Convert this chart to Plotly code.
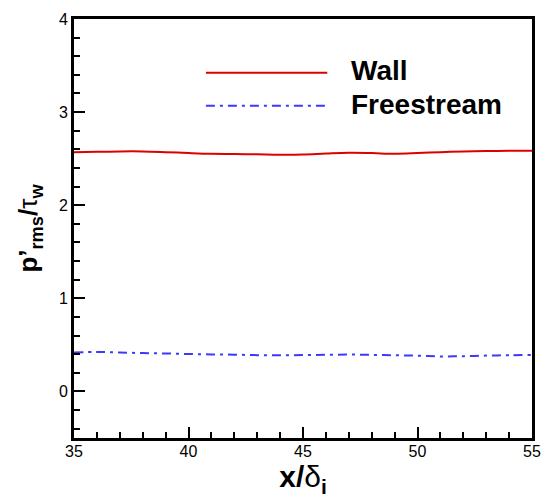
import plotly.graph_objects as go

x_vals = [35, 36, 37, 38, 39, 40, 41, 42, 43, 44, 45, 46, 47, 48, 49, 50, 51, 52, 53, 54, 55]
wall = [2.568, 2.573, 2.578, 2.578, 2.570, 2.560, 2.552, 2.550, 2.547, 2.543, 2.545,
        2.555, 2.563, 2.560, 2.553, 2.560, 2.570, 2.578, 2.582, 2.584, 2.585]
freestream = [0.418, 0.424, 0.418, 0.412, 0.408, 0.402, 0.398, 0.395, 0.390, 0.388, 0.391,
              0.394, 0.396, 0.393, 0.389, 0.384, 0.376, 0.379, 0.385, 0.389, 0.392]
series_names = ["Wall", "Freestream"]
x_ticks = [35, 40, 45, 50, 55]
y_ticks = [0, 1, 2, 3, 4]

RED = "#dd0000"
BLUE = "#3a3aff"
DASH = "9px,5px,3px,5px"
FONT = "Liberation Sans, Arial, sans-serif"

fig = go.Figure()
fig.add_trace(go.Scatter(x=x_vals, y=wall, mode="lines", name=series_names[0],
                         line=dict(color=RED, width=2, shape="spline"), showlegend=False))
fig.add_trace(go.Scatter(x=x_vals, y=freestream, mode="lines", name=series_names[1],
                         line=dict(color=BLUE, width=2, dash=DASH, shape="spline"), showlegend=False))

# legend drawn manually (sample lines + labels)
leg = [(0.872, RED, "solid", series_names[0]), (0.793, BLUE, DASH, series_names[1])]
for yy, col, dash, name in leg:
    fig.add_shape(type="line", xref="paper", yref="paper", x0=0.288, x1=0.553, y0=yy, y1=yy,
                  line=dict(color=col, width=2, dash=dash))
    fig.add_annotation(xref="paper", yref="paper", x=0.601, y=yy + 0.004, text="<b>%s</b>" % name,
                       showarrow=False, xanchor="left", yanchor="middle",
                       font=dict(family=FONT, size=28, color="black"))

axis_common = dict(showgrid=False, zeroline=False, showline=True, linecolor="black",
                   linewidth=3, mirror=True, ticks="inside", tickcolor="black",
                   tickwidth=2, ticklen=11,
                   tickfont=dict(family=FONT, size=16, color="black"))

fig.update_xaxes(range=[35, 55], tickvals=x_ticks, ticktext=[str(v) for v in x_ticks],
                 minor=dict(dtick=1, tick0=35, ticks="inside", ticklen=6, tickwidth=1.5, tickcolor="black"),
                 ticklabelstandoff=-3,
                 title=dict(text="<b>x/</b>δ<sub><b>i</b></sub>", font=dict(family=FONT, size=30, color="black"),
                            standoff=2),
                 **axis_common)
fig.update_yaxes(range=[-0.5, 4], tickvals=y_ticks, ticktext=[str(v) for v in y_ticks],
                 minor=dict(dtick=0.2, tick0=0, ticks="inside", ticklen=6, tickwidth=1.5, tickcolor="black"),
                 title=dict(text="<b>p’<sub>rms</sub>/</b>τ<sub><b>w</b></sub>",
                            font=dict(family=FONT, size=26, color="black"), standoff=14),
                 **axis_common)

fig.update_layout(width=552, height=500, margin=dict(l=74, r=11, t=13, b=62),
                  plot_bgcolor="white", paper_bgcolor="white",
                  font=dict(family=FONT, color="black"))

fig.write_html("out.html")
